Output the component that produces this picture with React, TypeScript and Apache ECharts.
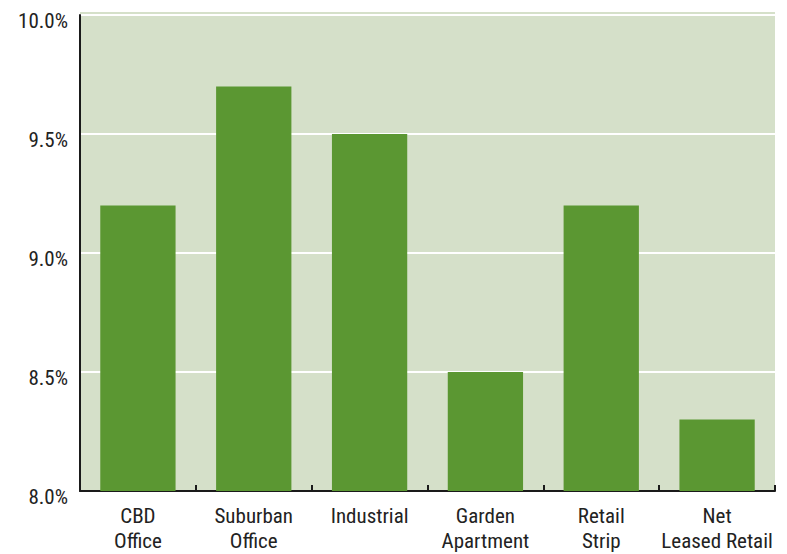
import React, { useEffect, useRef } from "react";
import * as echarts from "echarts";

const categories = ["CBD\nOffice", "Suburban\nOffice", "Industrial", "Garden\nApartment", "Retail\nStrip", "Net\nLeased Retail"];
const values = [9.2, 9.7, 9.5, 8.5, 9.2, 8.3];
const yTicks = [8.0, 8.5, 9.0, 9.5, 10.0];

const FONT = "'Liberation Sans Narrow', 'Roboto Condensed', 'Arial Narrow', sans-serif";

export default function App() {
  const ref = useRef<HTMLDivElement>(null);
  useEffect(() => {
    if (!ref.current) return;
    const chart = echarts.init(ref.current, undefined, { renderer: "svg" });
    chart.setOption({
      animation: false,
      backgroundColor: "#ffffff",
      grid: {
        left: 80,
        right: 12,
        top: 15,
        bottom: 63,
        show: true,
        backgroundColor: "#d5e0c9",
        borderWidth: 0,
      },
      graphic: [
        {
          type: "rect",
          shape: { x: 80, y: 12, width: 695, height: 3 },
          style: { fill: "#d5e0c9" },
          z: -1,
        },
      ],
      xAxis: {
        type: "category",
        data: categories,
        axisLine: { show: true, lineStyle: { color: "#1a1a1a", width: 2 } },
        axisTick: { show: true, inside: true, length: 6, lineStyle: { color: "#1a1a1a", width: 2 } },
        axisLabel: {
          color: "#222222",
          fontFamily: FONT,
          fontSize: 21,
          lineHeight: 25,
          margin: 12,
          interval: 0,
        },
      },
      yAxis: {
        type: "value",
        min: 8.0,
        max: 10.0,
        interval: 0.5,
        axisLine: { show: true, lineStyle: { color: "#1a1a1a", width: 2 } },
        axisTick: { show: false },
        splitLine: { show: true, lineStyle: { color: "#ffffff", width: 2 } },
        axisLabel: {
          color: "#222222",
          fontFamily: FONT,
          fontSize: 21,
          lineHeight: 11,
          verticalAlign: "top",
          margin: 12,
          formatter: (v: number) => (yTicks.includes(v) ? v.toFixed(1) + "%" : ""),
        },
      },
      series: [
        {
          type: "bar",
          data: values,
          barCategoryGap: "35%",
          itemStyle: { color: "#5b9732" },
        },
      ],
    });
    return () => chart.dispose();
  }, []);
  return <div ref={ref} style={{ width: 787, height: 554, position: "absolute", left: 0, top: 0 }} />;
}
